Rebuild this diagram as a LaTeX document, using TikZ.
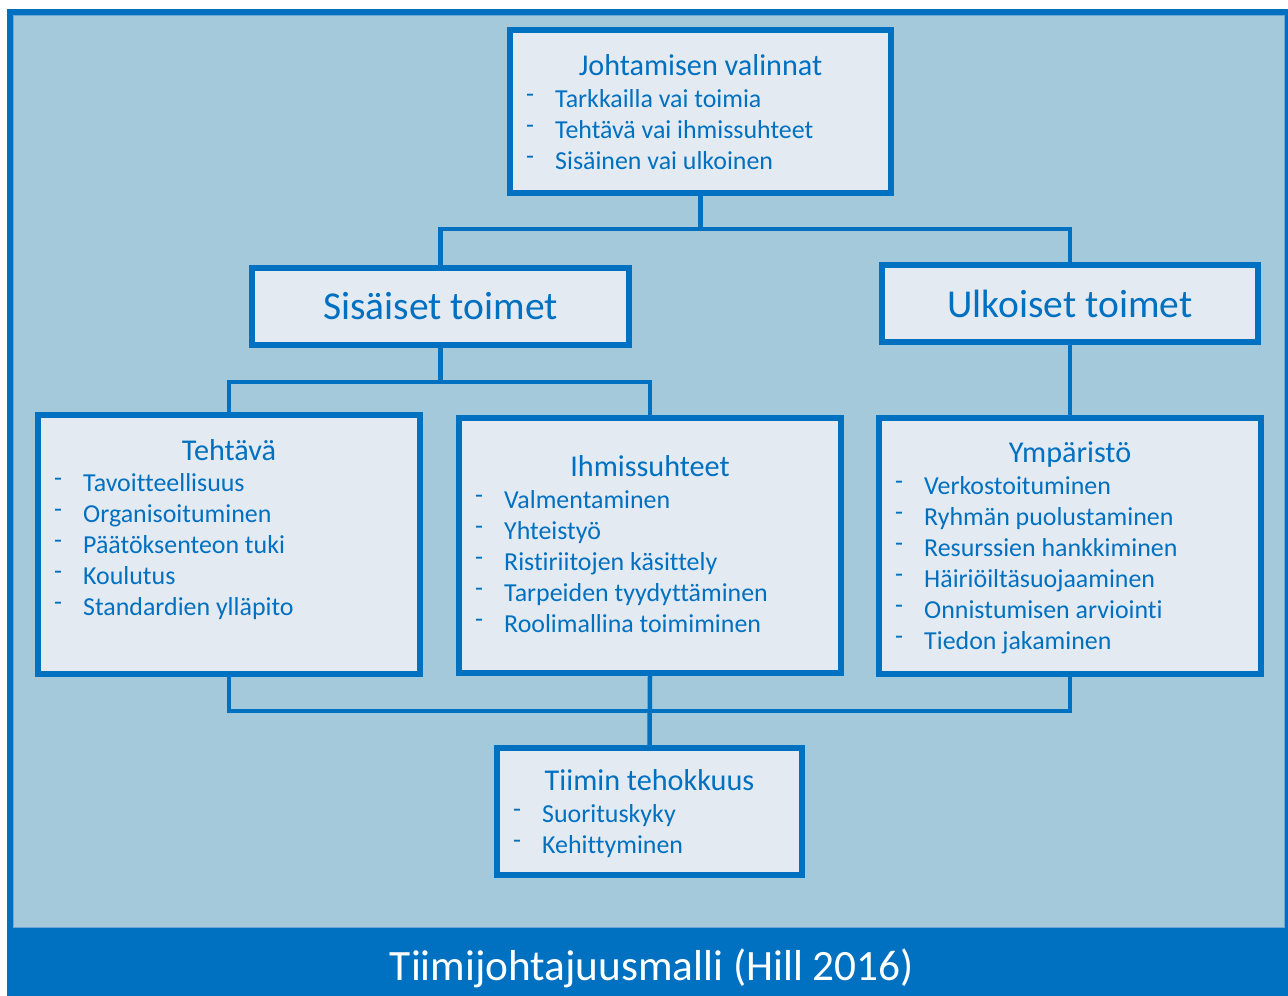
\documentclass[tikz,border=0pt]{standalone}
\usepackage{fontspec}
\setmainfont{Carlito}[Ligatures={NoCommon}]
\definecolor{frameblue}{HTML}{0070C0}
\definecolor{bglight}{HTML}{A4C9DB}
\definecolor{boxfill}{HTML}{E4EAF2}
\definecolor{edgeline}{HTML}{6FA8D6}
\begin{document}
\begin{tikzpicture}[x=1pt,y=-1pt,
  box/.style={draw=frameblue, line width=6pt, fill=boxfill, inner sep=0pt, rectangle},
  bigtext/.style={text=frameblue, font=\fontsize{39.5}{44}\selectfont},
  boxtitle/.style={text=frameblue, font=\fontsize{30.2}{34}\selectfont, anchor=base, inner sep=0pt},
  item/.style={text=frameblue, font=\fontsize{25.9}{30}\selectfont, anchor=base west, inner sep=0pt},
  dashmark/.style={text=frameblue, font=\fontsize{25.9}{30}\selectfont, anchor=base west, inner sep=0pt, yshift=5pt},
  conn/.style={draw=frameblue, line width=4.5pt, line join=miter}]
\useasboundingbox (0,0) rectangle (1288,996);
% frame and background
\fill[frameblue] (7,9) rectangle (1295,1000);
\fill[bglight] (13,15) rectangle (1285,928);
\draw[edgeline, line width=1pt] (13.5,15.5) rectangle (1284.5,927.5);
\node[text=white, font=\fontsize{43.3}{48}\selectfont, anchor=base, inner sep=0pt] (caption) at (652,980) {Tiimijohtajuusmalli (Hill 2016)};

% boxes
\node[box, minimum width=381pt, minimum height=163pt] (top) at (700.5,111.5) {};
\node[box, bigtext, minimum width=377pt, minimum height=77pt] (sis) at (440.5,306.5) {Sisäiset toimet};
\node[box, bigtext, minimum width=376pt, minimum height=77pt] (ulk) at (1070,303.5) {Ulkoiset toimet};
\node[box, minimum width=382pt, minimum height=259pt] (teh) at (229,544.5) {};
\node[box, minimum width=382pt, minimum height=255pt] (ihm) at (650,545.5) {};
\node[box, minimum width=382pt, minimum height=256pt] (ymp) at (1070,546) {};
\node[box, minimum width=305pt, minimum height=127pt] (tii) at (649.5,811.5) {};

% connectors
\coordinate (j1) at (700.5,229);
\coordinate (j2) at (440.5,382);
\coordinate (j3) at (650,711);
\draw[conn] (top.south) -- (j1);
\draw[conn] (sis.north) |- (j1) -| (ulk.north);
\draw[conn] (sis.south) -- (j2);
\draw[conn] (teh.north) |- (j2) -| (ihm.north);
\draw[conn] (ulk.south) -- (ymp.north);
\draw[conn] (teh.south) |- (j3) -| (ymp.south);
\draw[conn] (ihm.south) -- (tii.north);

% top box text
\node[boxtitle] (toptitle) at (700.5,75) {Johtamisen valinnat};
\foreach \txt [count=\i] in {Tarkkailla vai toimia, Tehtävä vai ihmissuhteet, Sisäinen vai ulkoinen} {
  \node[dashmark] (topd\i) at (526,76+31*\i) {-};
  \node[item] (topi\i) at (555,76+31*\i) {\txt};
}
% Tehtava
\node[boxtitle] (tehtitle) at (229,460) {Tehtävä};
\foreach \txt [count=\i] in {Tavoitteellisuus, Organisoituminen, Päätöksenteon tuki, Koulutus, Standardien ylläpito} {
  \node[dashmark] (tehd\i) at (54,460.5+31*\i) {-};
  \node[item] (tehi\i) at (83,460.5+31*\i) {\txt};
}
% Ihmissuhteet
\node[boxtitle] (ihmtitle) at (650,476) {Ihmissuhteet};
\foreach \txt [count=\i] in {Valmentaminen, Yhteistyö, Ristiriitojen käsittely, Tarpeiden tyydyttäminen, Roolimallina toimiminen} {
  \node[dashmark] (ihmd\i) at (475,477+31*\i) {-};
  \node[item] (ihmi\i) at (504,477+31*\i) {\txt};
}
% Ymparisto
\node[boxtitle] (ymptitle) at (1070,462) {Ympäristö};
\foreach \txt [count=\i] in {Verkostoituminen, Ryhmän puolustaminen, Resurssien hankkiminen, Häiriöiltäsuojaaminen, Onnistumisen arviointi, Tiedon jakaminen} {
  \node[dashmark] (ympd\i) at (895,463+31*\i) {-};
  \node[item] (ympi\i) at (924,463+31*\i) {\txt};
}
% Tiimin tehokkuus
\node[boxtitle] (tiititle) at (649.5,790) {Tiimin tehokkuus};
\foreach \txt [count=\i] in {Suorituskyky, Kehittyminen} {
  \node[dashmark] (tiid\i) at (513,791.5+31*\i) {-};
  \node[item] (tiii\i) at (542,791.5+31*\i) {\txt};
}
\end{tikzpicture}
\end{document}
